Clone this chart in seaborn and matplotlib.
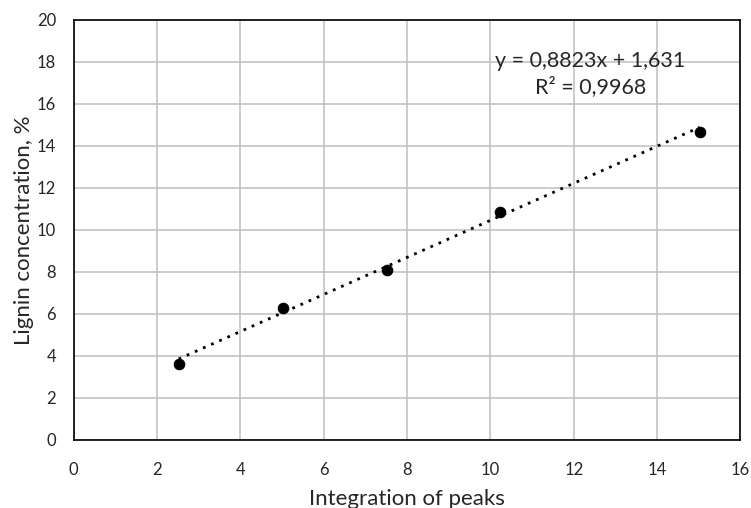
import numpy as np
import pandas as pd
import matplotlib
matplotlib.use("Agg")
import matplotlib.pyplot as plt
import seaborn as sns

# datos
integracion = [2.52, 5.03, 7.53, 10.22, 15.02]
lignina = [3.62, 6.27, 8.08, 10.87, 14.68]
pendiente = 0.8823
intercepto = 1.631
texto_ecuacion = "y = 0,8823x + 1,631\nR² = 0,9968"
ticks_x = [0, 2, 4, 6, 8, 10, 12, 14, 16]
ticks_y = [0, 2, 4, 6, 8, 10, 12, 14, 16, 18, 20]

df = pd.DataFrame({"x": integracion, "y": lignina})

sns.set_style("white")
plt.rcParams["font.family"] = ["Lato", "DejaVu Sans"]

fig = plt.figure(figsize=(7.51, 5.08), dpi=100)
ax = fig.add_axes([0.098, 0.134, 0.888, 0.827])

# línea de tendencia
xs = np.array([min(integracion), max(integracion)])
ax.plot(xs, pendiente * xs + intercepto, color="black", linestyle=(0, (1, 2.2)),
        linewidth=2, zorder=2)

sns.scatterplot(data=df, x="x", y="y", ax=ax, color="black", s=70,
                edgecolor="black", linewidth=0, zorder=3)

ax.set_xlim(0, 16)
ax.set_ylim(0, 20)
ax.set_xticks(ticks_x)
ax.set_yticks(ticks_y)
ax.grid(True, color="#bfbfbf", linewidth=1.1)
ax.set_axisbelow(True)
for s in ax.spines.values():
    s.set_color("black")
    s.set_linewidth(1.2)

ax.tick_params(axis="x", labelsize=12, length=0, pad=16)
ax.tick_params(axis="y", labelsize=12, length=0, pad=12.5)
ax.set_xlabel("Integration of peaks", fontsize=16, labelpad=8)
ax.set_ylabel("Lignin concentration, %", fontsize=16, labelpad=2)

ax.text(12.4, 17.43, texto_ecuacion, fontsize=15.5, ha="center", va="center",
        linespacing=1.3)

plt.savefig("out.png", dpi=100)
